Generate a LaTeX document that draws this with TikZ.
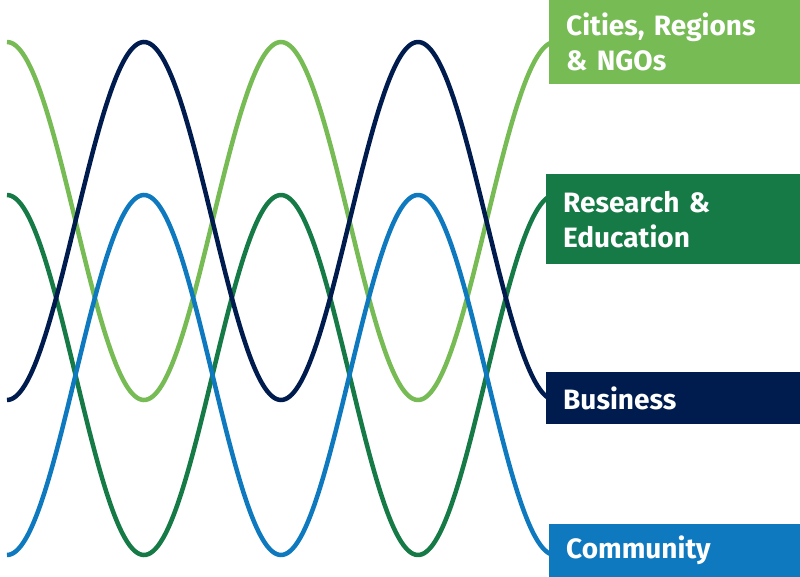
\documentclass[tikz,border=0pt]{standalone}
\usepackage{fontspec}
\setmainfont{Fira Sans}
\usepackage{tikz}

\definecolor{lgreen}{RGB}{119,187,85}
\definecolor{dgreen}{RGB}{22,122,70}
\definecolor{navy}{RGB}{0,28,78}
\definecolor{sblue}{RGB}{14,121,190}

\tikzset{
  wave/.style={line width=4.5pt, domain=7:552, samples=240, smooth},
  tag/.style={anchor=north west, inner xsep=17pt, inner ysep=0pt, text width=217pt,
    align=left, text=white, font=\fontsize{28}{35}\selectfont\bfseries}
}

\begin{document}
\begin{tikzpicture}[x=1pt, y=-1pt]
\useasboundingbox (0,0) rectangle (800,577);

% waves
\draw [wave, lgreen] plot (\x, {221 - 179*cos(deg((\x-7)*pi/137))});
\draw [wave, dgreen] plot (\x, {375 - 180*cos(deg((\x-7)*pi/137))});
\draw [wave, sblue] plot (\x, {375 + 180*cos(deg((\x-7)*pi/137))});
\draw [wave, navy] plot (\x, {221 + 179*cos(deg((\x-7)*pi/137))});

% labels
\node (cities) at (549,0) [tag, fill=lgreen, minimum height=84pt] {Cities, Regions\\\& NGOs};
\node (research) at (546,174) [tag, fill=dgreen, minimum height=90pt, text width=220pt] {Research \&\\Education};
\node (business) at (546,372) [tag, fill=navy, minimum height=52pt, text width=220pt] {Business};
\node (community) at (549,524) [tag, fill=sblue, minimum height=53pt] {Community};
\end{tikzpicture}
\end{document}
